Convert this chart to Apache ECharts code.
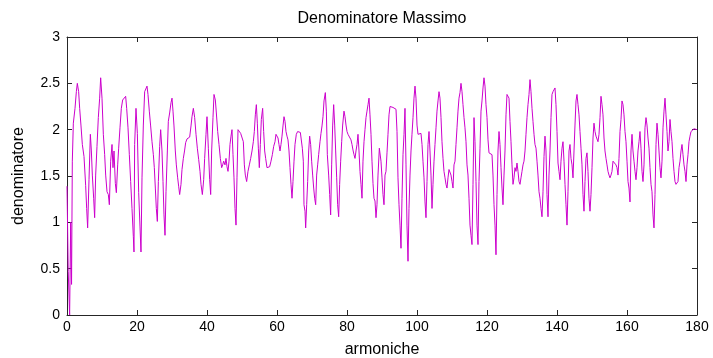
<!DOCTYPE html>
<html>
<head>
<meta charset="utf-8">
<script src="https://cdn.jsdelivr.net/npm/echarts@6/dist/echarts.min.js"></script>
<style>
  html, body { margin: 0; padding: 0; background: #fff; }
  #chart { width: 713px; height: 358px; }
</style>
</head>
<body>
<div id="chart"></div>
<script>
// Titolo ed etichette degli assi
const titolo = 'Denominatore Massimo';
const etichettaX = 'armoniche';
const etichettaY = 'denominatore';

// Tacche degli assi
const ticksX = [0, 20, 40, 60, 80, 100, 120, 140, 160, 180];
const ticksY = [0, 0.5, 1, 1.5, 2, 2.5, 3];

// Campioni [armonica, denominatore]
const campioni = [
  [0,1.39],[0.35,0.47],[0.75,0.0],[1.05,1.0],[1.3,0.33],[1.52,1.66],[1.81,2.07],[2.29,2.23],[2.67,2.41],[2.95,2.50],
  [3.33,2.41],[3.62,2.23],[4.0,2.04],[4.38,1.84],[4.86,1.71],[5.33,1.40],[5.62,1.15],[5.90,0.94],[6.29,1.46],[6.67,1.95],
  [6.95,1.78],[7.24,1.51],[7.62,1.26],[7.90,1.05],[8.19,1.51],[8.57,1.82],[8.95,2.13],[9.33,2.34],[9.62,2.56],[10.0,2.34],
  [10.38,1.95],[10.76,1.73],[11.05,1.51],[11.43,1.33],[11.81,1.30],[12.1,1.19],[12.48,1.66],[12.86,1.84],[13.14,1.59],[13.43,1.77],
  [13.81,1.42],[14.1,1.32],[14.48,1.62],[14.76,1.80],[15.14,2.02],[15.52,2.23],[15.9,2.32],[16.29,2.34],[16.76,2.36],[17.05,2.23],
  [17.43,2.02],[17.81,1.73],[18.19,1.44],[18.57,1.15],[18.95,0.85],[19.14,0.68],[19.33,1.84],[19.71,2.23],[20.1,1.96],[20.48,1.32],
  [20.86,0.95],[21.14,0.68],[21.43,1.48],[21.81,2.05],[22.19,2.41],[22.57,2.43],[22.86,2.47],[23.14,2.38],[23.52,2.20],[23.9,2.04],
  [24.29,1.87],[24.67,1.73],[24.95,1.59],[25.24,1.37],[25.52,1.15],[25.81,1.01],[26.1,1.44],[26.48,1.82],[26.76,2.00],[27.14,1.77],
  [27.43,1.44],[27.71,1.08],[28.0,0.86],[28.29,1.33],[28.67,1.77],[28.95,2.09],[29.33,2.18],[29.71,2.29],[30.0,2.34],[30.29,2.20],
  [30.57,2.04],[30.95,1.77],[31.24,1.62],[31.62,1.48],[31.9,1.39],[32.19,1.30],[32.57,1.41],[32.86,1.57],[33.24,1.69],[33.62,1.78],
  [33.9,1.86],[34.29,1.90],[34.67,1.91],[35.05,1.92],[35.43,2.04],[35.71,2.14],[36.1,2.23],[36.48,2.13],[36.86,1.95],[37.24,1.80],
  [37.62,1.68],[38.0,1.55],[38.29,1.41],[38.67,1.30],[39.05,1.46],[39.33,1.69],[39.71,1.95],[40.0,2.14],[40.38,1.80],[40.76,1.46],
  [41.05,1.30],[41.33,1.77],[41.71,2.13],[42.0,2.38],[42.38,2.32],[42.67,2.18],[43.05,1.98],[43.43,1.84],[43.81,1.69],[44.19,1.59],
  [44.48,1.62],[44.76,1.66],[45.14,1.62],[45.43,1.69],[45.71,1.60],[46.0,1.55],[46.29,1.66],[46.57,1.84],[46.86,1.93],[47.14,2.00],
  [47.43,1.73],[47.71,1.48],[48.0,1.15],[48.29,0.97],[48.57,1.48],[48.86,2.00],[49.24,1.98],[49.62,1.96],[50.0,1.95],[50.38,1.87],
  [50.67,1.62],[50.95,1.51],[51.33,1.44],[51.71,1.55],[52.1,1.62],[52.48,1.69],[52.86,1.77],[53.24,1.87],[53.52,1.98],[53.81,2.16],
  [54.1,2.27],[54.38,2.07],[54.67,1.80],[54.95,1.59],[55.24,1.84],[55.52,2.11],[55.9,2.23],[56.19,1.98],[56.48,1.77],[56.76,1.69],
  [57.14,1.59],[57.52,1.59],[57.9,1.60],[58.29,1.66],[58.67,1.73],[59.05,1.82],[59.43,1.87],[59.71,1.95],[60.0,1.96],[60.29,1.91],
  [60.57,1.84],[60.86,1.77],[61.14,1.84],[61.43,1.93],[61.71,2.04],[62.0,2.14],[62.29,2.09],[62.57,1.98],[62.86,1.93],[63.14,1.89],
  [63.43,1.77],[63.71,1.59],[64.0,1.41],[64.29,1.26],[64.57,1.44],[64.86,1.66],[65.14,1.84],[65.52,1.95],[65.9,1.98],[66.29,2.00],
  [66.67,1.97],[66.95,1.95],[67.24,1.80],[67.52,1.66],[67.71,1.19],[68.0,1.12],[68.19,0.94],[68.48,1.19],[68.76,1.44],[69.05,1.77],
  [69.33,1.93],[69.62,1.84],[69.9,1.66],[70.19,1.51],[70.48,1.37],[70.76,1.26],[71.05,1.19],[71.33,1.51],[71.62,1.62],[71.9,1.73],
  [72.29,1.87],[72.57,1.96],[72.86,2.04],[73.14,2.14],[73.43,2.31],[73.81,2.40],[74.1,2.20],[74.38,1.73],[74.76,1.51],[75.05,1.30],
  [75.33,1.08],[75.62,1.62],[75.9,2.04],[76.19,2.27],[76.48,2.05],[76.76,1.77],[77.05,1.48],[77.33,1.19],[77.62,1.06],[77.9,1.41],
  [78.19,1.66],[78.48,1.87],[78.76,2.05],[79.14,2.20],[79.43,2.14],[79.71,2.05],[80.0,1.98],[80.29,1.95],[80.57,1.96],[80.86,1.93],
  [81.14,1.89],[81.43,1.84],[81.71,1.78],[82.0,1.73],[82.29,1.69],[82.57,1.77],[82.86,1.84],[83.14,1.95],[83.43,1.77],[83.71,1.55],
  [84.0,1.41],[84.29,1.26],[84.57,1.66],[84.86,1.87],[85.14,2.00],[85.43,2.13],[85.71,2.20],[86.0,2.27],[86.29,2.34],[86.57,2.16],
  [86.86,1.95],[87.14,1.66],[87.43,1.42],[87.71,1.26],[88.0,1.23],[88.29,1.05],[88.57,1.19],[88.86,1.51],[89.24,1.80],[89.71,1.66],
  [90.0,1.48],[90.29,1.30],[90.57,1.19],[90.86,1.51],[91.14,1.55],[91.43,1.75],[91.71,1.95],[92.0,2.16],[92.29,2.25],[92.57,2.25],
  [92.86,2.24],[93.14,2.24],[93.43,2.23],[93.71,2.23],[94.0,2.22],[94.29,1.98],[94.57,1.48],[94.86,1.19],[95.14,0.97],[95.43,0.72],
  [95.71,1.26],[96.0,1.73],[96.29,1.95],[96.57,2.23],[96.86,1.62],[97.14,0.97],[97.43,0.58],[97.71,1.15],[98.0,1.51],[98.29,1.77],
  [98.57,1.95],[98.86,2.13],[99.14,2.34],[99.43,2.47],[99.71,2.34],[100.0,2.05],[100.29,1.95],[100.57,1.93],[100.86,1.95],[101.14,1.96],
  [101.43,1.84],[101.71,1.66],[102.0,1.48],[102.29,1.22],[102.57,1.05],[102.86,1.44],[103.14,1.84],[103.43,1.98],[103.71,1.77],[104.0,1.51],
  [104.29,1.15],[104.57,1.41],[104.86,1.66],[105.14,1.84],[105.43,2.02],[105.71,2.20],[106.0,2.31],[106.29,2.41],[106.57,2.34],[106.86,2.13],
  [107.14,1.87],[107.43,1.69],[107.71,1.55],[108.0,1.48],[108.29,1.41],[108.57,1.37],[108.86,1.48],[109.14,1.57],[109.43,1.55],[109.71,1.51],
  [110.0,1.44],[110.29,1.37],[110.57,1.62],[110.86,1.66],[111.14,1.84],[111.43,2.02],[111.71,2.20],[112.0,2.34],[112.29,2.40],[112.57,2.50],
  [112.86,2.41],[113.14,2.27],[113.43,2.13],[113.71,2.02],[114.0,1.87],[114.29,1.62],[114.57,1.51],[114.86,1.26],[115.14,0.97],[115.43,0.86],
  [115.71,0.76],[116.0,1.41],[116.29,2.13],[116.57,1.87],[116.86,1.44],[117.14,0.97],[117.43,0.76],[117.71,1.44],[118.0,1.80],[118.29,2.20],
  [118.57,2.31],[118.86,2.45],[119.14,2.56],[119.43,2.47],[119.71,2.27],[120.0,2.13],[120.29,1.89],[120.57,1.75],[120.86,1.75],[121.14,1.74],
  [121.43,1.73],[121.71,1.51],[122.0,1.19],[122.29,0.97],[122.57,0.65],[122.86,1.30],[123.14,1.77],[123.43,1.98],[123.71,1.84],[124.0,1.59],
  [124.29,1.37],[124.57,1.19],[124.86,1.51],[125.14,1.77],[125.43,2.16],[125.71,2.38],[126.0,2.40],[126.29,2.34],[126.57,2.09],[126.86,1.87],
  [127.14,1.62],[127.43,1.41],[127.71,1.48],[128.0,1.59],[128.29,1.55],[128.57,1.64],[128.86,1.55],[129.14,1.44],[129.43,1.41],[129.71,1.48],
  [130.0,1.55],[130.29,1.62],[130.57,1.66],[130.86,1.77],[131.14,1.95],[131.43,2.13],[131.71,2.27],[132.0,2.38],[132.29,2.54],[132.57,2.41],
  [132.86,2.23],[133.14,2.09],[133.43,1.95],[133.71,1.84],[134.0,1.80],[134.29,1.66],[134.57,1.51],[134.86,1.33],[135.14,1.26],[135.43,1.15],
  [135.71,1.06],[136.0,1.33],[136.29,1.71],[136.57,1.93],[136.86,1.77],[137.14,1.30],[137.43,1.06],[137.71,1.51],[138.0,1.77],[138.29,2.13],
  [138.57,2.38],[138.86,2.41],[139.14,2.43],[139.43,2.45],[139.71,2.27],[140.0,1.98],[140.29,1.64],[140.57,1.55],[140.86,1.46],[141.14,1.66],
  [141.43,1.80],[141.71,1.87],[142.0,1.66],[142.29,1.41],[142.57,1.19],[142.86,0.97],[143.14,1.33],[143.43,1.77],[143.71,1.84],[144.0,1.69],
  [144.29,1.62],[144.57,1.48],[144.86,1.77],[145.14,2.05],[145.43,2.31],[145.71,2.38],[146.0,2.27],[146.29,2.16],[146.57,1.98],[146.86,1.80],
  [147.14,1.62],[147.43,1.30],[147.71,1.12],[148.0,1.44],[148.29,1.69],[148.57,1.75],[148.86,1.55],[149.14,1.26],[149.43,1.12],[149.71,1.30],
  [150.0,1.59],[150.29,1.91],[150.57,2.07],[150.86,1.98],[151.14,1.93],[151.43,1.95],[151.71,1.87],[152.0,1.95],[152.29,2.13],[152.57,2.36],
  [152.86,2.27],[153.14,2.16],[153.43,1.91],[153.71,1.77],[154.0,1.69],[154.29,1.62],[154.57,1.55],[154.86,1.51],[155.14,1.48],[155.43,1.51],
  [155.71,1.55],[156.0,1.66],[156.29,1.68],[156.57,1.67],[156.86,1.62],[157.14,1.59],[157.43,1.51],[157.71,1.69],[158.0,1.98],[158.29,2.11],
  [158.57,2.31],[158.86,2.27],[159.14,2.16],[159.43,1.98],[159.71,1.87],[160.0,1.66],[160.29,1.44],[160.57,1.37],[160.86,1.22],[161.14,1.77],
  [161.43,1.95],[161.71,1.77],[162.0,1.66],[162.29,1.55],[162.57,1.46],[162.86,1.59],[163.14,1.77],[163.43,1.87],[163.71,1.98],[164.0,1.80],
  [164.29,1.55],[164.57,1.44],[164.86,1.62],[165.14,2.02],[165.43,2.13],[165.71,2.05],[166.0,1.91],[166.29,1.80],[166.57,1.59],[166.86,1.41],
  [167.14,1.33],[167.43,1.08],[167.71,0.94],[168.0,1.30],[168.29,1.84],[168.57,2.07],[168.86,1.95],[169.14,1.77],[169.43,1.59],[169.71,1.48],
  [170.0,1.66],[170.29,2.02],[170.57,2.20],[170.86,2.34],[171.14,2.16],[171.43,1.98],[171.71,1.77],[172.0,1.87],[172.29,2.11],[172.57,1.98],
  [172.86,1.87],[173.14,1.69],[173.43,1.55],[173.71,1.44],[174.0,1.41],[174.29,1.39],[174.57,1.44],[174.86,1.59],[175.14,1.66],[175.43,1.77],
  [175.71,1.84],[176.0,1.73],[176.29,1.62],[176.57,1.55],[176.86,1.44],[177.14,1.62],[177.43,1.73],[177.71,1.87],[178.0,1.93],[178.29,1.98],
  [178.57,1.99],[178.86,2.00],[179.14,2.01],[179.43,2.00],[179.71,2.00],[180.0,2.00]
];

const font = "'Liberation Sans', Arial, sans-serif";
const inkAxis = '#262626';

// Area del grafico
const areaSx = 67, areaTop = 37, areaW = 630, areaH = 278;

const chart = echarts.init(document.getElementById('chart'), null, { renderer: 'canvas' });

function asseX(pos, labels) {
  return {
    type: 'value', position: pos,
    min: ticksX[0], max: ticksX[ticksX.length - 1], interval: ticksX[1] - ticksX[0],
    axisLine: { show: true, onZero: false, lineStyle: { color: inkAxis, width: 1 } },
    axisTick: { show: true, inside: true, length: 5, lineStyle: { color: inkAxis } },
    axisLabel: { show: labels, color: '#000', fontFamily: font, fontSize: 14, margin: 5 },
    splitLine: { show: false },
    name: labels ? etichettaX : '', nameLocation: 'middle', nameGap: 27,
    nameTextStyle: { color: '#000', fontFamily: font, fontSize: 16 }
  };
}
function asseY(pos, labels) {
  return {
    type: 'value', position: pos,
    min: ticksY[0], max: ticksY[ticksY.length - 1], interval: ticksY[1] - ticksY[0],
    axisLine: { show: true, onZero: false, lineStyle: { color: inkAxis, width: 1 } },
    axisTick: { show: true, inside: true, length: 5, lineStyle: { color: inkAxis } },
    axisLabel: { show: labels, color: '#000', fontFamily: font, fontSize: 14, margin: 7 },
    splitLine: { show: false },
    name: labels ? etichettaY : '', nameLocation: 'middle', nameGap: 40,
    nameTextStyle: { color: '#000', fontFamily: font, fontSize: 16 }
  };
}

chart.setOption({
  animation: false,
  backgroundColor: '#fff',
  graphic: [{
    type: 'text',
    x: areaSx + areaW / 2, y: 19,
    style: {
      text: titolo, fill: '#000', font: '16px ' + font,
      textAlign: 'center', textVerticalAlign: 'middle'
    }
  }],
  grid: {
    left: areaSx, top: areaTop, width: areaW, height: areaH,
    containLabel: false, outerBoundsMode: 'none'
  },
  xAxis: [asseX('bottom', true), asseX('top', false)],
  yAxis: [asseY('left', true), asseY('right', false)],
  series: [{
    type: 'line',
    data: campioni,
    showSymbol: false,
    symbol: 'none',
    lineStyle: { color: '#cc00cc', width: 1 },
    clip: true
  }]
});
</script>
</body>
</html>
